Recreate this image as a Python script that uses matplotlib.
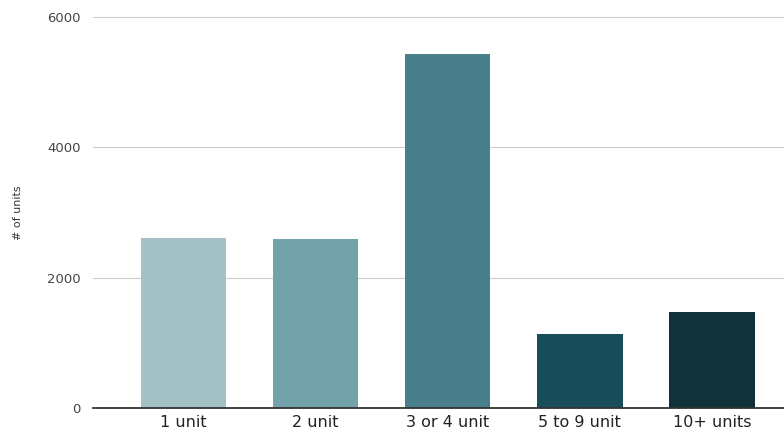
import matplotlib.pyplot as plt

categories = ["1 unit", "2 unit", "3 or 4 unit", "5 to 9 unit", "10+ units"]
units = [2614, 2594, 5429, 1131, 1469]
colors = ["#a4c2c6", "#73a2aa", "#487f8b", "#184d5a", "#10323a"]
yticks = [0, 2000, 4000, 6000]

fig = plt.figure(figsize=(7.84, 4.34), dpi=100)
ax = fig.add_axes([93 / 784, 1 - 408 / 434, 1 - 93 / 784, (408 - 17) / 434])

x = range(len(categories))
ax.bar(x, units, width=0.645, color=colors, zorder=3)

ax.set_xlim(-0.686, 4.545)
ax.set_ylim(0, 6000)
ax.set_yticks(yticks)
ax.set_yticklabels([str(t) for t in yticks], fontsize=9.5, color="#444444")
ax.set_xticks(list(x))
ax.set_xticklabels(categories, fontsize=11.5, color="#222222")
ax.tick_params(axis="both", length=0)
ax.tick_params(axis="x", pad=5)
ax.tick_params(axis="y", pad=9)

ax.grid(axis="y", color="#cccccc", linewidth=0.8, zorder=0)
for s in ["top", "right", "left"]:
    ax.spines[s].set_visible(False)
ax.spines["bottom"].set_color("#333333")
ax.spines["bottom"].set_linewidth(1.3)
ax.spines["bottom"].set_zorder(4)

fig.text(18 / 784, 1 - 213 / 434, "# of units", rotation=90, fontsize=8,
         color="#333333", ha="center", va="center")

fig.savefig("out.png", dpi=100)
